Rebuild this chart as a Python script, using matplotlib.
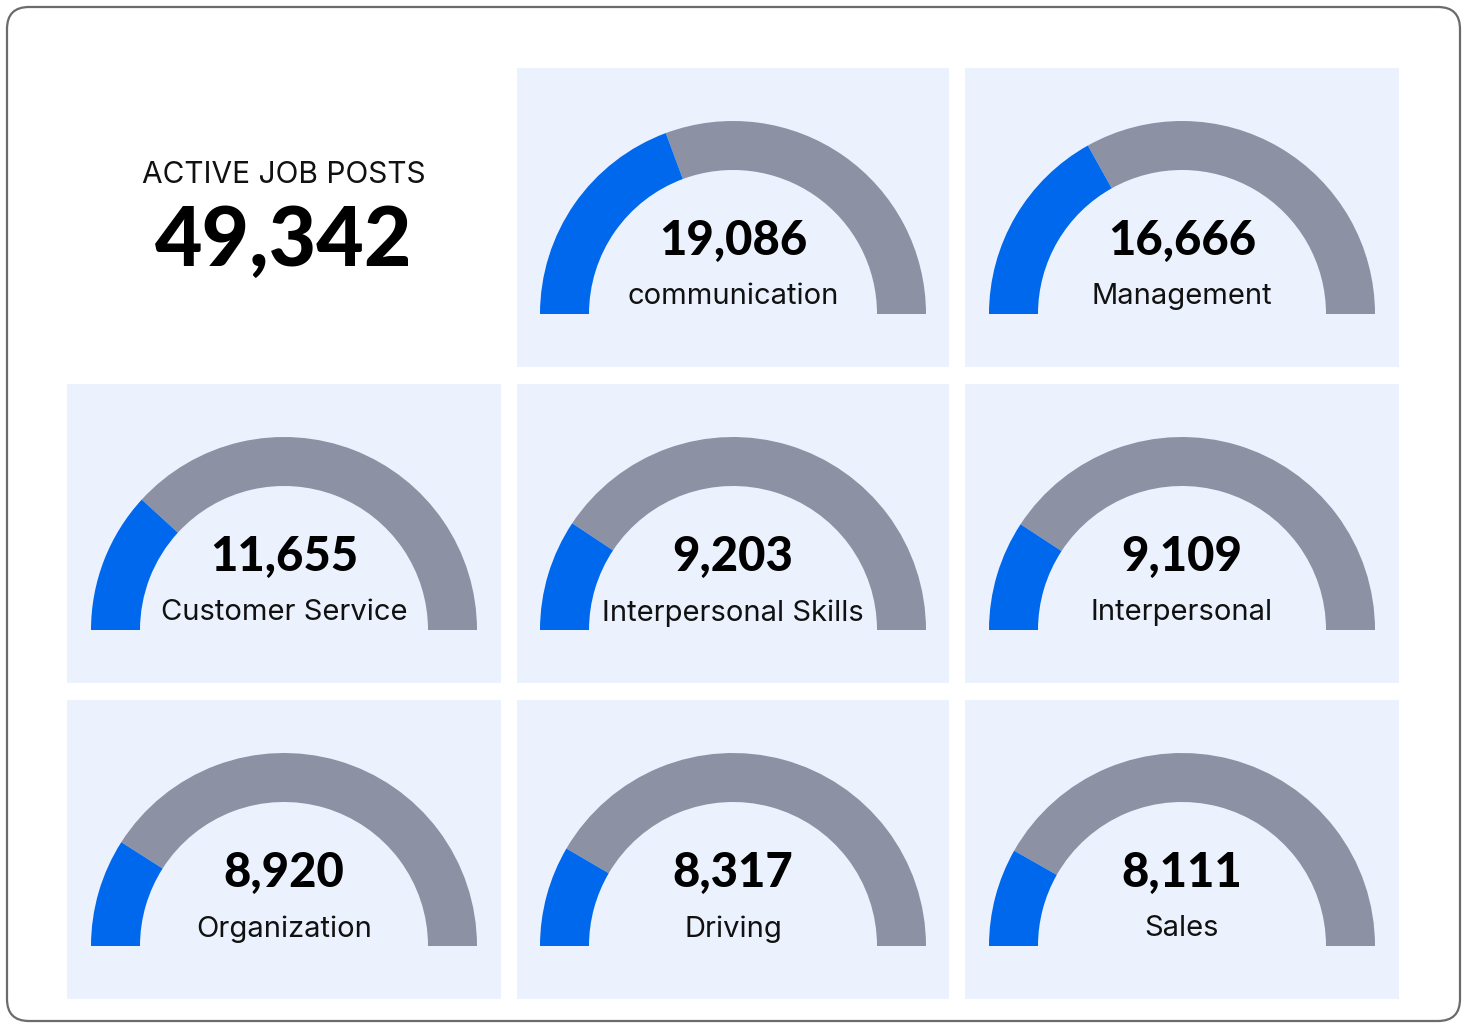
import matplotlib
matplotlib.use("Agg")
import matplotlib.pyplot as plt
from matplotlib.patches import Wedge, Rectangle, FancyBboxPatch

plt.rcParams['font.family'] = ['Lato', 'DejaVu Sans']
LABEL_FONT = ['Inter', 'DejaVu Sans']

# data
total_label = "ACTIVE JOB POSTS"
total_value = 49342
skills = ["communication", "Management", "Customer Service", "Interpersonal Skills",
          "Interpersonal", "Organization", "Driving", "Sales"]
counts = [19086, 16666, 11655, 9203, 9109, 8920, 8317, 8111]

BLUE = "#0068EC"
GRAY = "#8C92A4"
PANEL = "#EBF2FE"

W, H = 1468, 1024
fig = plt.figure(figsize=(W / 100, H / 100), dpi=100)
ax = fig.add_axes([0, 0, 1, 1])
ax.set_xlim(0, W)
ax.set_ylim(0, H)
ax.axis("off")


def Y(y):
    # pixel row from the top -> data y
    return H - y


# outer rounded card
ax.add_patch(FancyBboxPatch((7, Y(1021)), 1453, 1014,
                            boxstyle="round,pad=0,rounding_size=22",
                            fc="white", ec="#6b6b6b", lw=1.6))

col_x = [67, 517, 965]
col_w = [434, 432, 434]
row_y = [68, 384, 700]
row_h = 299

# slots: first cell holds the total, the rest hold gauges
slots = [(r, c) for r in range(3) for c in range(3)][1:]

cx0 = col_x[0] + col_w[0] / 2
ax.text(cx0, Y(175), total_label, ha="center", va="center", fontsize=21.5,
        family=LABEL_FONT, color="#111")
ax.text(cx0, Y(242), f"{total_value:,}", ha="center", va="center",
        fontsize=59, fontweight="black", color="#000")

R_OUT, R_W = 193, 49
for (r, c), name, val in zip(slots, skills, counts):
    x0, w = col_x[c], col_w[c]
    y0 = row_y[r]
    ax.add_patch(Rectangle((x0, Y(y0 + row_h)), w, row_h, fc=PANEL, ec="none"))
    cx, cy = x0 + w / 2, Y(y0 + 246)
    split = 180 - 180 * val / total_value
    ax.add_patch(Wedge((cx, cy), R_OUT, 0, split, width=R_W, fc=GRAY, ec="none"))
    ax.add_patch(Wedge((cx, cy), R_OUT, split, 180, width=R_W, fc=BLUE, ec="none"))
    ax.text(cx, Y(y0 + 173), f"{val:,}", ha="center", va="center",
            fontsize=34, fontweight="black", color="#000")
    ax.text(cx, Y(y0 + 229), name, ha="center", va="center", fontsize=21,
            family=LABEL_FONT, color="#111")

fig.savefig("out.png", dpi=100, facecolor="white")
